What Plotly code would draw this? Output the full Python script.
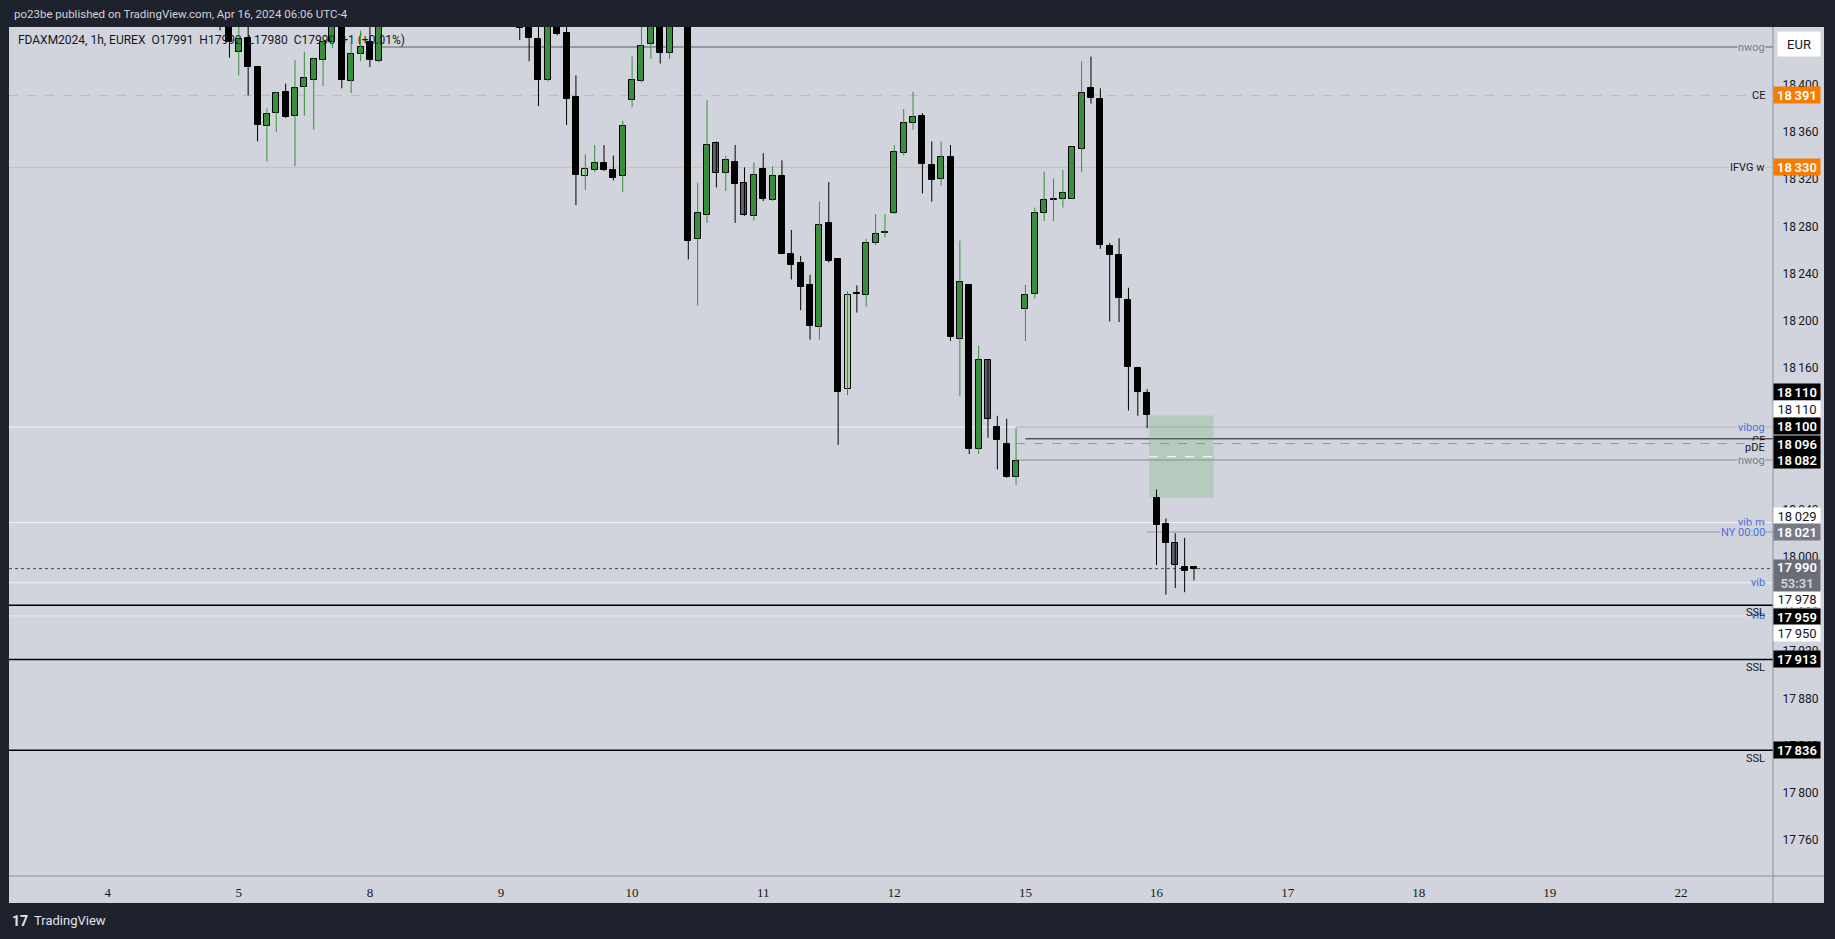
import plotly.graph_objects as go

# ---------------- data ----------------
# bar index: 0 = Apr 4 02:00 (UTC-4); 14 hourly bars per session (02:00-15:00)
BAR_INDEX = [12, 13, 14, 15, 16, 17, 18, 19, 20, 21, 22, 23, 24, 25, 26, 27, 28, 29,
             44, 45, 46, 47, 48, 49, 50, 51, 52, 53, 54, 55, 56, 57, 58, 59, 60,
             62, 63, 64, 65, 66, 67, 68, 69, 70, 71, 72, 73, 74, 75, 76, 77, 78, 79, 80,
             81, 82, 83, 84, 85, 86, 87, 88, 89, 90, 91, 92, 93, 94, 95, 96, 97,
             98, 99, 100, 101, 102, 103, 104, 105, 106, 107, 108, 109, 110, 111,
             112, 113, 114, 115, 116]
OPEN = [18470, 18462, 18428, 18440, 18415, 18365, 18376, 18394, 18374, 18398, 18404, 18421, 18436, 18460, 18403, 18426, 18436, 18420,
        18462, 18448, 18439, 18404, 18452, 18444, 18390, 18323, 18328, 18334, 18328, 18322.5, 18387, 18403, 18434.5, 18458, 18427,
        18468, 18269, 18290, 18351, 18325, 18334.5, 18317, 18289, 18328.5, 18302, 18323, 18257, 18249, 18230, 18195, 18283, 18252, 18142, 18223.5,
        18221.5, 18266, 18274.5, 18291, 18342.5, 18368, 18374, 18332, 18320, 18338.5, 18185, 18230.5, 18091, 18166.5, 18110, 18096, 18068,
        18210, 18223, 18291.5, 18302.5, 18303, 18303.5, 18346, 18397, 18388, 18263, 18256, 18218, 18160, 18139,
        18049.5, 18027.5, 18012, 17991.5, 17991]
HIGH = [18478, 18470, 18456, 18452, 18416, 18380, 18394, 18401, 18421, 18428, 18423, 18440, 18466, 18468, 18437, 18446, 18455, 18470,
        18470, 18455, 18456, 18472, 18460, 18455, 18408, 18341, 18349, 18349, 18340, 18369.5, 18424, 18455, 18466, 18466, 18466,
        18476, 18317, 18387, 18352, 18340, 18349, 18330, 18334, 18342, 18331, 18336, 18277, 18255, 18239, 18301, 18317.5, 18252.5, 18225, 18230,
        18269.5, 18290.5, 18290.5, 18349, 18379.5, 18394, 18376, 18352, 18352, 18349, 18268, 18231, 18179, 18167, 18119.5, 18117, 18109,
        18230.5, 18296, 18326.5, 18320.5, 18328, 18347.5, 18420, 18424, 18397, 18266, 18270, 18228, 18161, 18142,
        18057, 18032.5, 18020, 18016, 17992]
LOW = [18446, 18423, 18408, 18391, 18352, 18335, 18360, 18372, 18331, 18374, 18362, 18399, 18431, 18397, 18393, 18420, 18415, 18419,
       18438, 18420, 18382, 18403, 18442, 18366, 18298, 18311, 18326, 18327, 18319, 18309, 18381, 18402, 18422, 18418, 18422,
       18252, 18213, 18283, 18313, 18310, 18283, 18289, 18285, 18301.5, 18301.5, 18256.5, 18235, 18209, 18184, 18184, 18249.5, 18095, 18137, 18207,
       18212, 18264, 18270.5, 18290.5, 18340, 18362, 18308, 18301, 18314.5, 18183, 18136, 18087, 18087, 18101, 18074, 18067, 18061,
       18183, 18219, 18284.5, 18284.5, 18296, 18303, 18326, 18384, 18261, 18199.5, 18199, 18124, 18119.5, 18109,
       17993, 17968, 17973.5, 17970, 17980]
CLOSE = [18458, 18436, 18439, 18415, 18366, 18375, 18393, 18373, 18397, 18406, 18422, 18436, 18458, 18404, 18426, 18432, 18421, 18462,
         18448, 18440, 18404, 18463, 18443, 18388, 18324, 18328.5, 18334, 18327.5, 18321, 18365, 18404, 18433, 18458, 18427, 18458,
         18268, 18291, 18349, 18325, 18336, 18316, 18289.5, 18324, 18303, 18323, 18257, 18247, 18229, 18196, 18281, 18251, 18140, 18222, 18222.5,
         18266, 18274, 18275, 18343, 18367.5, 18372.5, 18333, 18319, 18339, 18186, 18233, 18091, 18166.5, 18116.5, 18099, 18068, 18081,
         18222, 18291, 18302, 18303, 18308, 18347, 18393, 18389, 18264, 18256, 18219, 18161, 18140, 18120,
         18027, 18012, 17993, 17988, 17990]
# candle style: G green, B black, Y grey, P pale green
STYLE = list("BBGBBGGBGGGGGBGGBG"
             "BBBGBBBPGBBGGGGBG"
             "BGGYGBYGBGBBBBGBBPB"
             "GGGGGGBBGBGBGYBBG"
             "GGGGGGGBBBBBBB"
             "BBYBB")

DAY_TICK_INDEX = [0, 14, 28, 42, 56, 70, 84, 98, 112, 126, 140, 154, 168]
DAY_LABELS = ["4", "5", "8", "9", "10", "11", "12", "15", "16", "17", "18", "19", "22"]
PRICE_TICKS = list(range(17760, 18401, 40))

X_RANGE = [-10.54, 177.83]
Y_RANGE = [17729.5, 18449.0]

# ---------------- geometry helpers ----------------
W, H = 1835, 939
ML, MR, MT, MB = 9, 62, 27, 63
PW, PH = W - ML - MR, H - MT - MB
def px(fx):
    return (fx - ML) / PW
def py(fy):
    return (H - MB - fy) / PH
PX_PER_PT = PH / (Y_RANGE[1] - Y_RANGE[0])

def fmt(v):
    v = int(round(v))
    return f"{v // 1000}\u2009{v % 1000:03d}"

PLOT_BG = "#d1d4dc"
DARK = "#1e222d"
TXT = "#131722"
GREEN = "#388e3c"
FILL = {"G": GREEN, "B": "#000000", "Y": "#5d606b", "P": "#a5d6a7"}
FONT = "Roboto, 'Liberation Sans', sans-serif"
SERIF = "'Liberation Serif', 'DejaVu Serif', serif"

fig = go.Figure()

# legend line (drawn under the candles, like the original)
fig.add_trace(go.Scatter(
    x=[X_RANGE[0] + 0.95], y=[Y_RANGE[1] - 14 / PX_PER_PT], mode="text",
    text=["FDAXM2024, 1h, EUREX  O17991  H17992  L17980  C17990  +1 (+0.01%)"],
    textposition="middle right", textfont=dict(family=FONT, size=12, color=TXT),
    hoverinfo="skip", showlegend=False, cliponaxis=False))

# wicks
for kinds, col in ((("G", "P"), GREEN), (("B", "Y"), "#000000")):
    xs, ys = [], []
    for i, lo, hi, s in zip(BAR_INDEX, LOW, HIGH, STYLE):
        if s in kinds:
            xs += [i, i, None]
            ys += [lo, hi, None]
    fig.add_trace(go.Scatter(x=xs, y=ys, mode="lines", line=dict(color=col, width=1),
                             hoverinfo="skip", showlegend=False))

# bodies
base = [min(o, c) for o, c in zip(OPEN, CLOSE)]
height = [max(abs(c - o), 0.8) for o, c in zip(OPEN, CLOSE)]
fig.add_trace(go.Bar(x=BAR_INDEX, y=height, base=base, width=0.64,
                     marker=dict(color=[FILL[s] for s in STYLE],
                                 line=dict(color="#000000", width=1)),
                     hoverinfo="skip", showlegend=False))

shapes = []
# light chart background incl. the axis strips
shapes.append(dict(type="rect", xref="paper", yref="paper", x0=0, x1=px(1824), y0=py(903), y1=1,
                   fillcolor=PLOT_BG, line=dict(width=0), layer="below"))
# axis separators
shapes.append(dict(type="line", xref="paper", yref="paper", x0=1, x1=1, y0=py(903), y1=1,
                   line=dict(color="#8c8f99", width=1)))
shapes.append(dict(type="line", xref="paper", yref="paper", x0=0, x1=px(1824), y0=0, y1=0,
                   line=dict(color="#8c8f99", width=1)))

# horizontal levels: (price, colour, width, dash, start index or None for full width)
LEVELS = [
    (18432, "#9598a1", 2, "solid", 28.5),
    (18391, "#f0ad78", 1, "dash", None),
    (18330, "#f0b48a", 1, "solid", None),
    (18110, "#f0f3fa", 1, "solid", None),
    (18110, "#a3a6af", 1, "solid", 97),
    (18100, "#131722", 1, "solid", 98),
    (18096, "#9598a1", 1, "dash", 97),
    (18082, "#a3a6af", 1.5, "solid", 97),
    (18029, "#f0f3fa", 1, "solid", None),
    (18021, "#9598a1", 1, "solid", 111),
    (17990, "#434651", 1, "dot", None),
    (17978, "#f0f3fa", 1, "solid", None),
    (17959, "#000000", 1.5, "solid", None),
    (17950, "#e6e9f0", 1, "solid", None),
    (17913, "#000000", 1.5, "solid", None),
    (17836, "#000000", 1.5, "solid", None),
]
for p, col, wd, dash, start in LEVELS:
    if start is None:
        shapes.append(dict(type="line", xref="paper", yref="y", x0=0, x1=1, y0=p, y1=p,
                           line=dict(color=col, width=wd, dash=dash), layer="below"))
    else:
        shapes.append(dict(type="line", xref="x", yref="y", x0=start, x1=X_RANGE[1], y0=p, y1=p,
                           line=dict(color=col, width=wd, dash=dash), layer="below"))

# FVG box
BOX = dict(x0=111.2, x1=118.1, y0=18049.8, y1=18119.8)
shapes.append(dict(type="rect", xref="x", yref="y", **BOX,
                   fillcolor="rgba(76,175,80,0.22)", line=dict(width=0), layer="below"))
mid = (BOX["y0"] + BOX["y1"]) / 2
shapes.append(dict(type="line", xref="x", yref="y", x0=BOX["x0"], x1=BOX["x1"], y0=mid, y1=mid,
                   line=dict(color="#ffffff", width=1, dash="dash"), layer="below"))

ann = []
# header & footer
ann.append(dict(xref="paper", yref="paper", x=px(12), y=py(14), xanchor="left", yanchor="middle",
                text="po23be published on TradingView.com, Apr 16, 2024 06:06 UTC-4", showarrow=False,
                font=dict(family=FONT, size=11.5, color="#d1d4dc")))
ann.append(dict(xref="paper", yref="paper", x=px(10), y=py(921), xanchor="left", yanchor="middle",
                text="<b>17</b>", showarrow=False,
                font=dict(family=FONT, size=14, color="#e0e3eb")))
ann.append(dict(xref="paper", yref="paper", x=px(32), y=py(921), xanchor="left", yanchor="middle",
                text="TradingView", showarrow=False,
                font=dict(family=FONT, size=13, color="#e0e3eb")))
ann.append(dict(xref="paper", yref="paper", x=px(1777), y=py(44), xanchor="left", yanchor="middle",
                text="EUR", showarrow=False, bgcolor="#ffffff", width=42, height=24, borderpad=0,
                font=dict(family=FONT, size=13, color=TXT)))

# right-hand level names: (text, price, colour, pixel shift, masked)
BLUE = "#4f6fd6"
NAMES = [
    ("nwog", 18432, "#7b7e88", 0, True),
    ("CE", 18391, TXT, 0, True),
    ("IFVG w", 18330, TXT, 0, True),
    ("vibog", 18110, BLUE, 0, True),
    ("CE", 18096, TXT, 3, False),
    ("pDE", 18100, TXT, -9, True),
    ("nwog", 18082, "#7b7e88", 0, True),
    ("vib m", 18029, BLUE, 0, True),
    ("NY 00:00", 18021, BLUE, 0, True),
    ("vib", 17978, BLUE, 0, True),
    ("vib", 17950, BLUE, 0, True),
    ("SSL", 17959, TXT, -7, False),
    ("SSL", 17913, TXT, -8, False),
    ("SSL", 17836, TXT, -8, False),
]
for t, p, col, sh, masked in NAMES:
    a = dict(xref="paper", yref="y", x=px(1766), y=p, yshift=sh, xanchor="right", yanchor="middle",
             text=t, showarrow=False, font=dict(family=FONT, size=11, color=col), borderpad=0)
    if masked:
        a["bgcolor"] = PLOT_BG
    ann.append(a)

# price tags on the axis: (price, background, text colour, pixel shift)
TAGS = [
    (18391, "#f57c00", "#ffffff", 0),
    (18330, "#f57c00", "#ffffff", 0),
    (18110, "#000000", "#ffffff", 35),
    (18110, "#ffffff", TXT, 18),
    (18100, "#000000", "#ffffff", 12.5),
    (18096, "#000000", "#ffffff", 0),
    (18082, "#000000", "#ffffff", 0),
    (18029, "#ffffff", TXT, 7),
    (18021, "#787b86", "#ffffff", 0),
    (17978, "#ffffff", TXT, -16),
    (17959, "#000000", "#ffffff", -11.5),
    (17950, "#ffffff", TXT, -17.5),
    (17913, "#000000", "#ffffff", 0),
    (17836, "#000000", "#ffffff", 0),
]
for p, bg, fg, sh in TAGS:
    ann.append(dict(xref="paper", yref="y", x=1, y=p, yshift=sh, xanchor="left", yanchor="middle",
                    text=fmt(p), showarrow=False, bgcolor=bg, width=46, height=16, borderpad=0,
                    font=dict(family=FONT, size=13, color=fg, weight=(400 if bg == "#ffffff" else 600))))
# last price + countdown
ann.append(dict(xref="paper", yref="y", x=1, y=CLOSE[-1], yshift=-7, xanchor="left", yanchor="middle",
                text=fmt(CLOSE[-1]) + "<br><span style='color:#d1d4dc'>53:31</span>", showarrow=False,
                bgcolor="#6a6d78", width=46, height=31, borderpad=0,
                font=dict(family=FONT, size=13, color="#ffffff", weight=600)))

fig.update_layout(
    width=W, height=H, margin=dict(l=ML, r=MR, t=MT, b=MB, autoexpand=False),
    paper_bgcolor=DARK, plot_bgcolor=PLOT_BG, showlegend=False, bargap=0,
    shapes=shapes, annotations=ann,
    xaxis=dict(range=X_RANGE, showgrid=False, zeroline=False, showline=False,
               tickvals=DAY_TICK_INDEX, ticktext=DAY_LABELS, ticks="outside", ticklen=4,
               tickcolor="rgba(0,0,0,0)", tickfont=dict(family=SERIF, size=13, color=TXT), fixedrange=True),
    yaxis=dict(range=Y_RANGE, side="right", showgrid=False, zeroline=False, showline=False,
               tickvals=PRICE_TICKS, ticktext=[fmt(v) for v in PRICE_TICKS], ticks="outside", ticklen=6,
               tickcolor="rgba(0,0,0,0)", tickfont=dict(family=FONT, size=12, color=TXT), fixedrange=True),
)

fig.write_html("out.html", config={"displayModeBar": False},
               post_script="document.body.style.margin='0px';document.body.style.background='#1e222d';")
